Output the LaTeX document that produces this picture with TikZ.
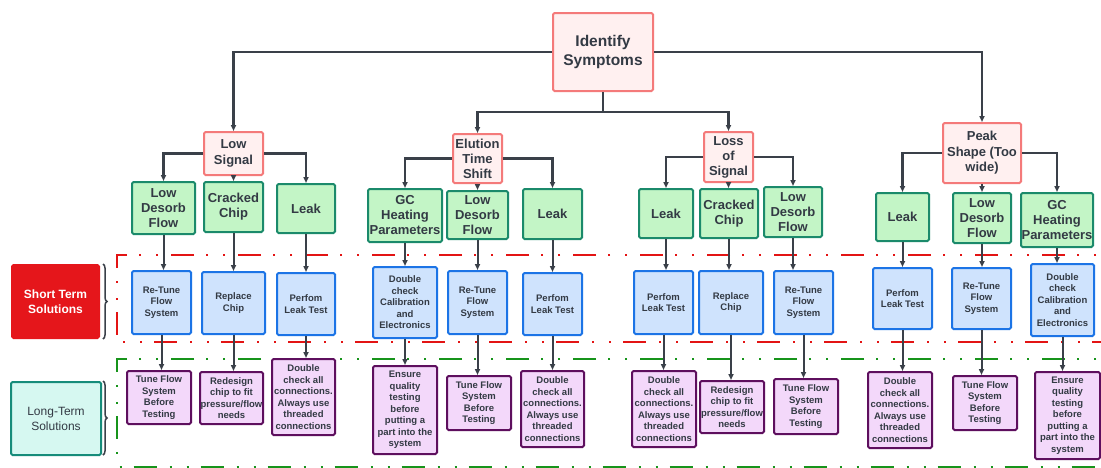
\documentclass[tikz,border=0pt]{standalone}
\usepackage{fontspec}
\setmainfont{Liberation Sans}
\usetikzlibrary{arrows.meta,decorations.pathreplacing}
\definecolor{pinkF}{HTML}{FFF0F0}
\definecolor{pinkD}{HTML}{F47A7A}
\definecolor{grnF}{HTML}{C3F5C6}
\definecolor{grnD}{HTML}{1B8A6B}
\definecolor{bluF}{HTML}{CFE3FD}
\definecolor{bluD}{HTML}{1C74E6}
\definecolor{purF}{HTML}{F3D8FA}
\definecolor{purD}{HTML}{5E0F5E}
\definecolor{ink}{HTML}{333A44}
\definecolor{connc}{HTML}{3A4049}
\definecolor{stRed}{HTML}{E5161B}
\definecolor{dRed}{HTML}{E31414}
\definecolor{dGrn}{HTML}{17941B}
\definecolor{ltF}{HTML}{D6F8F1}
\definecolor{ltD}{HTML}{168C7A}
\newcommand\bx[7]{\node[#1, minimum width={#5-#3}, minimum height={#6-#4}] (#2) at ({(#3+#5)/2},{(#4+#6)/2}) {#7};}
\begin{document}
\begin{tikzpicture}[x=1pt,y=-1pt,
  base/.style={rectangle, rounded corners=1.5pt, line width=2pt, inner sep=0pt, align=center, text=ink},
  pbox/.style={base, draw=pinkD, fill=pinkF, font=\bfseries\fontsize{13}{15.5}\selectfont},
  gbox/.style={base, draw=grnD, fill=grnF, font=\bfseries\fontsize{13}{15}\selectfont},
  bbox/.style={base, draw=bluD, fill=bluF, font=\bfseries\fontsize{9.5}{11.5}\selectfont},
  ubox/.style={base, draw=purD, fill=purF, font=\bfseries\fontsize{9.5}{11.5}\selectfont},
  tree/.style={draw=connc, line width=2.4pt, -{Triangle[length=6pt,width=5pt]}},
  arr/.style={draw=connc, line width=2pt, -{Triangle[length=6pt,width=5pt]}},
  dashpat/.style={line width=2pt, dash pattern=on 23pt off 13pt on 2pt off 15pt on 2pt off 12pt, dash phase=31pt},
  bracestyle/.style={draw=connc, line width=1.5pt, decorate, decoration={brace, amplitude=4pt}}
]
\useasboundingbox (0,0) rectangle (1101,467);
\fill[white] (0,0) rectangle (1101,467);

% dashed solution bands
\draw[dashpat, dRed] (1101,255) -- (117,255) -- (117,342) -- (1101,342);
\draw[dashpat, dGrn] (1101,359) -- (117,359) -- (117,466.5) -- (1101,466.5);

% left labels
\bx{base, draw=stRed, fill=stRed, text=white, font=\bfseries\fontsize{12}{15}\selectfont}{st}{12}{265}{99}{338}{Short Term\\Solutions}
\bx{base, draw=ltD, fill=ltF, font=\fontsize{12}{15}\selectfont}{lt}{11}{382}{101}{455}{Long-Term\\Solutions}
\draw[bracestyle] (103,264) -- (103,339);
\draw[bracestyle] (103,381) -- (103,455);

% root and symptoms
\bx{pbox, font=\bfseries\fontsize{15.5}{19}\selectfont}{id}{553}{13}{653}{91}{Identify\\Symptoms}
\bx{pbox}{ls}{204}{132}{263}{175}{Low\\Signal}
\bx{pbox, font=\bfseries\fontsize{13}{15}\selectfont}{el}{453}{134}{502}{183}{Elution\\Time\\Shift}
\bx{pbox, font=\bfseries\fontsize{13}{15}\selectfont}{lo}{704}{132}{753}{182}{Loss\\of\\Signal}
\bx{pbox}{ps}{943}{123}{1021}{183}{Peak\\Shape (Too\\wide)}

% causes
\bx{gbox}{g1a}{132}{182}{195}{234}{Low\\Desorb\\Flow}
\bx{gbox}{g1b}{204}{182}{263}{232}{Cracked\\Chip}
\bx{gbox}{g1c}{277}{184}{335}{233}{Leak}
\bx{gbox}{g2a}{368}{189}{442}{242}{GC\\Heating\\Parameters}
\bx{gbox}{g2b}{447}{191}{508}{239}{Low\\Desorb\\Flow}
\bx{gbox}{g2c}{523}{189}{582}{239}{Leak}
\bx{gbox}{g3a}{639}{189}{693}{238}{Leak}
\bx{gbox}{g3b}{700}{189}{758}{238}{Cracked\\Chip}
\bx{gbox}{g3c}{764}{187}{822}{237}{Low\\Desorb\\Flow}
\bx{gbox}{g4a}{876}{193}{929}{241}{Leak}
\bx{gbox}{g4b}{953}{193}{1011}{243}{Low\\Desorb\\Flow}
\bx{gbox}{g4c}{1021}{193}{1093}{247}{GC\\Heating\\Parameters}

% short term
\bx{bbox}{b1a}{132}{271}{191}{334}{Re-Tune\\Flow\\System}
\bx{bbox}{b1b}{202}{272}{265}{334}{Replace\\Chip}
\bx{bbox}{b1c}{277}{273}{335}{335}{Perfom\\Leak Test}
\bx{bbox}{b2a}{373}{267}{437}{338}{Double\\check\\Calibration\\and\\Electronics}
\bx{bbox}{b2b}{448}{271}{507}{334}{Re-Tune\\Flow\\System}
\bx{bbox}{b2c}{523}{273}{582}{335}{Perfom\\Leak Test}
\bx{bbox}{b3a}{634}{271}{693}{334}{Perfom\\Leak Test}
\bx{bbox}{b3b}{699}{271}{763}{334}{Replace\\Chip}
\bx{bbox}{b3c}{774}{271}{833}{334}{Re-Tune\\Flow\\System}
\bx{bbox}{b4a}{873}{268}{932}{329}{Perfom\\Leak Test}
\bx{bbox}{b4b}{952}{268}{1011}{329}{Re-Tune\\Flow\\System}
\bx{bbox}{b4c}{1031}{264}{1094}{336}{Double\\check\\Calibration\\and\\Electronics}

% long term
\bx{ubox}{u1a}{127}{371}{191}{424}{Tune Flow\\System\\Before\\Testing}
\bx{ubox}{u1b}{200}{372}{263}{424}{Redesign\\chip to fit\\pressure/flow\\needs}
\bx{ubox}{u1c}{272}{359}{335}{435}{Double\\check all\\connections.\\Always use\\threaded\\connections}
\bx{ubox}{u2a}{373}{366}{437}{454}{Ensure\\quality\\testing\\before\\putting a\\part into the\\system}
\bx{ubox}{u2b}{447}{376}{511}{430}{Tune Flow\\System\\Before\\Testing}
\bx{ubox}{u2c}{521}{371}{584}{447}{Double\\check all\\connections.\\Always use\\threaded\\connections}
\bx{ubox}{u3a}{632}{371}{696}{447}{Double\\check all\\connections.\\Always use\\threaded\\connections}
\bx{ubox}{u3b}{700}{381}{764}{433}{Redesign\\chip to fit\\pressure/flow\\needs}
\bx{ubox}{u3c}{774}{379}{838}{434}{Tune Flow\\System\\Before\\Testing}
\bx{ubox}{u4a}{868}{372}{932}{448}{Double\\check all\\connections.\\Always use\\threaded\\connections}
\bx{ubox}{u4b}{953}{376}{1017}{430}{Tune Flow\\System\\Before\\Testing}
\bx{ubox}{u4c}{1035}{372}{1100}{459}{Ensure\\quality\\testing\\before\\putting a\\part into the\\system}

% tree connectors
\coordinate (jn) at (603,112);
\draw[tree] (id.west) -| (ls.north);
\draw[tree] (id.east) -| (ps.north);
\draw[tree] (id.south) -- (jn) -| (el.north);
\draw[tree] (jn) -| (lo.north);

\foreach \p/\l/\m/\r in {ls/g1a/g1b/g1c, el/g2a/g2b/g2c, lo/g3a/g3b/g3c, ps/g4a/g4b/g4c}{
  \draw[tree] (\p.west) -| (\l.north);
  \draw[tree] (\p.east) -| (\r.north);
  \draw[tree] (\p.south) -- (\p.south |- \m.north);
}

% cause -> short term -> long term
\foreach \g/\b/\u in {g1a/b1a/u1a, g1b/b1b/u1b, g1c/b1c/u1c,
                      g2a/b2a/u2a, g2b/b2b/u2b, g2c/b2c/u2c,
                      g3a/b3a/u3a, g3b/b3b/u3b, g3c/b3c/u3c,
                      g4a/b4a/u4a, g4b/b4b/u4b, g4c/b4c/u4c}{
  \draw[arr] (\g.south) -- (\g.south |- \b.north);
  \draw[arr] (\b.south) -- (\b.south |- \u.north);
}
\end{tikzpicture}
\end{document}
